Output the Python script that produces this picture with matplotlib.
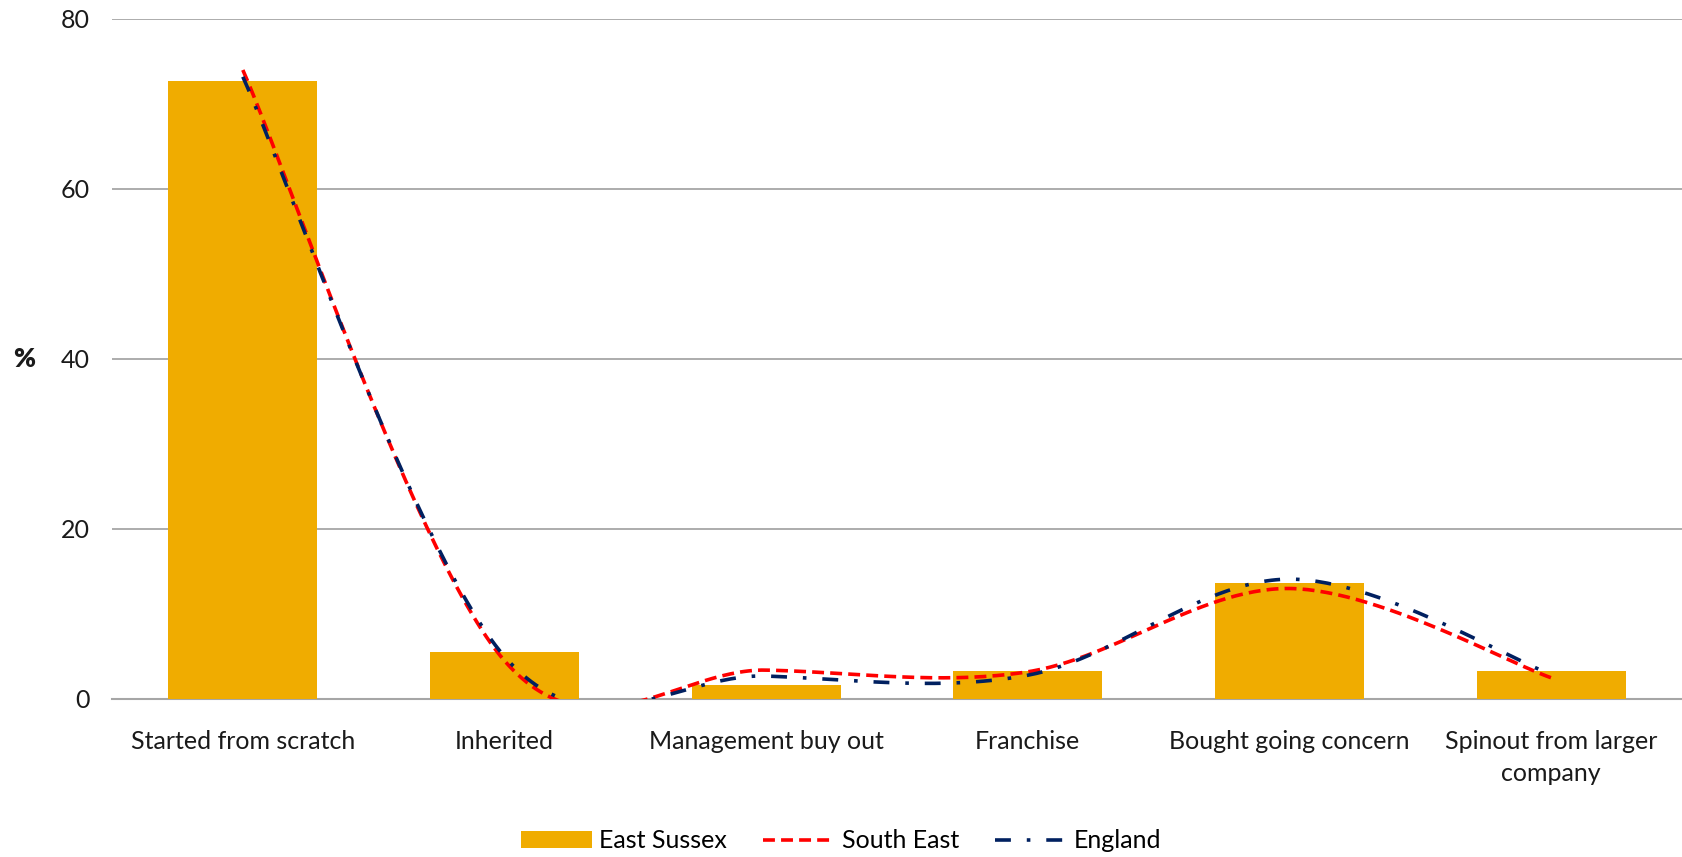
import numpy as np
import matplotlib
matplotlib.use("Agg")
import matplotlib.pyplot as plt
from matplotlib.patches import Patch
from matplotlib.lines import Line2D

plt.rcParams['font.family'] = ['Lato', 'DejaVu Sans']

categories = ["Started from scratch", "Inherited", "Management buy out",
              "Franchise", "Bought going concern", "Spinout from larger\ncompany"]
east_sussex = [72.7, 5.5, 1.6, 3.3, 13.7, 3.3]
south_east = [74.0, 4.5, 3.4, 3.2, 13.0, 2.5]
england = [73.2, 5.0, 2.7, 2.8, 14.1, 2.9]
y_ticks = [0, 20, 40, 60, 80]

BAR_COLOR = "#F0AC00"
SE_COLOR = "#FF0000"
ENG_COLOR = "#002060"
GRID_COLOR = "#A6A6A6"
TEXT_COLOR = "#1a1a1a"
FS = 18


def smooth_curve(ys, samples=60):
    """Cubic Bezier smoothing through the points (spreadsheet-style)."""
    pts = np.column_stack([np.arange(len(ys), dtype=float), np.asarray(ys, float)])
    n = len(pts)
    out = []
    t = np.linspace(0, 1, samples)[:, None]
    for i in range(n - 1):
        p0 = pts[i - 1] if i > 0 else pts[i]
        p1 = pts[i]
        p2 = pts[i + 1]
        p3 = pts[i + 2] if i + 2 < n else pts[i + 1]
        c1 = p1 + (p2 - p0) / 6.0
        c2 = p2 - (p3 - p1) / 6.0
        seg = ((1 - t) ** 3) * p1 + 3 * ((1 - t) ** 2) * t * c1 \
            + 3 * (1 - t) * t ** 2 * c2 + t ** 3 * p2
        out.append(seg if i == 0 else seg[1:])
    arr = np.vstack(out)
    return arr[:, 0], arr[:, 1]


W, H = 1682, 857
fig = plt.figure(figsize=(W / 100, H / 100), dpi=100)
left, right, top, bottom = 112, 1682, 19, 699
ax = fig.add_axes([left / W, 1 - bottom / H, (right - left) / W, (bottom - top) / H])

x = np.arange(len(categories))
ax.bar(x, east_sussex, width=0.57, color=BAR_COLOR, zorder=2)

SE_STYLE = (0, (3.3, 1.7))
ENG_STYLE = (0, (4.4, 4.4, 1.0, 4.4))
LW = 2.6

sx, sy = smooth_curve(south_east)
ax.plot(sx, sy, color=SE_COLOR, lw=LW, linestyle=SE_STYLE,
        dash_capstyle='butt', zorder=3)
ex, ey = smooth_curve(england)
ax.plot(ex, ey, color=ENG_COLOR, lw=LW, linestyle=ENG_STYLE,
        dash_capstyle='butt', zorder=4)

ax.set_xlim(-0.5, len(categories) - 0.5)
ax.set_ylim(0, 80)
ax.set_yticks(y_ticks)
ax.set_yticklabels([str(v) for v in y_ticks])
ax.set_xticks(x)
ax.set_xticklabels(categories, linespacing=1.5)
ax.tick_params(axis='y', length=0, pad=16, labelsize=FS, labelcolor=TEXT_COLOR)
ax.tick_params(axis='x', length=0, pad=22, labelsize=FS, labelcolor=TEXT_COLOR)

ax.grid(axis='y', color=GRID_COLOR, lw=1.3, zorder=0)
ax.set_axisbelow(True)
for s in ['left', 'right', 'top']:
    ax.spines[s].set_visible(False)
ax.spines['bottom'].set_color(GRID_COLOR)
ax.spines['bottom'].set_linewidth(1.5)
ax.spines['bottom'].set_zorder(1)

fig.text(24 / W, 1 - 359 / H, "%", fontsize=FS + 1, fontweight='heavy',
         ha='center', va='center', color=TEXT_COLOR)

handles = [
    Patch(facecolor=BAR_COLOR, edgecolor='none', label="East Sussex"),
    Line2D([], [], color=SE_COLOR, lw=LW, linestyle=SE_STYLE, label="South East"),
    Line2D([], [], color=ENG_COLOR, lw=LW, linestyle=ENG_STYLE, label="England"),
]
fig.legend(handles=handles, loc='center', bbox_to_anchor=(0.5, 1 - 841 / H), ncol=3,
           frameon=False, fontsize=FS, handlelength=2.85, handleheight=0.65,
           handletextpad=0.28, columnspacing=1.45)

fig.savefig("out.png", dpi=100)
